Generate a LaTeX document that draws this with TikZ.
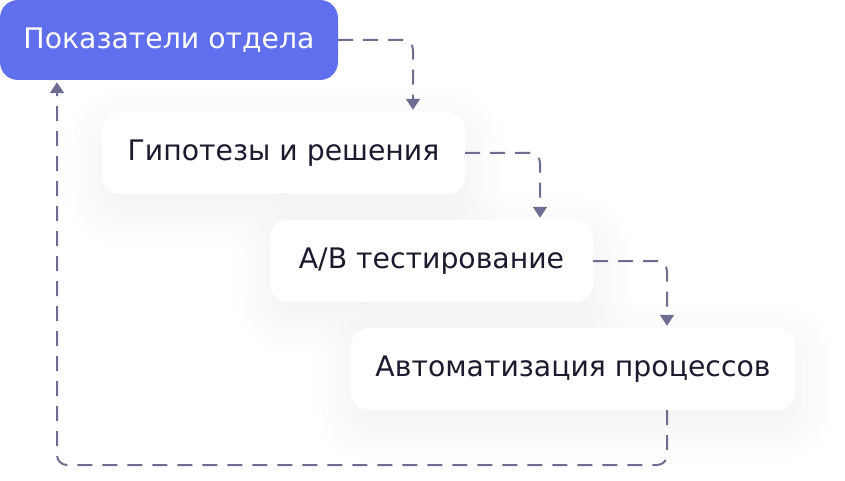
\documentclass[tikz,border=0pt]{standalone}
\usepackage{fontspec}
\setmainfont{DejaVu Sans}
\usetikzlibrary{arrows.meta,shadows.blur}
\definecolor{metricblue}{HTML}{5F6FEE}
\definecolor{flowgray}{HTML}{6E6C90}
\definecolor{inkdark}{HTML}{1B1A2E}
\begin{document}
\begin{tikzpicture}[x=1pt,y=-1pt,
  stage/.style={rounded corners=18pt,minimum height=82pt,inner sep=0pt,
    font=\fontsize{28.3}{32}\selectfont,text=inkdark,fill=white,
    blur shadow={shadow xshift=2pt,shadow yshift=-14pt,shadow blur radius=40pt,
      shadow opacity=6,shadow blur steps=20}},
  flow/.style={draw=flowgray,line width=2pt,dash pattern=on 15pt off 10pt,
    rounded corners=10pt,-{Triangle[width=14pt,length=11pt]},shorten >=2pt}]
\useasboundingbox (0,0) rectangle (845,481);
\node[stage,fill=metricblue,text=white,blur shadow={shadow opacity=0},minimum width=338pt,minimum height=80pt] (metrics) at (169,40) {Показатели отдела};
\node[stage,minimum width=363pt] (ideas) at (283.5,153) {Гипотезы и решения};
\node[stage,minimum width=323pt] (abtest) at (431.5,261) {A/B тестирование};
\node[stage,minimum width=444pt] (auto) at (573,369) {Автоматизация процессов};
\coordinate (turn1) at (413,42);
\coordinate (turn2) at (540,155);
\coordinate (turn3) at (667,262);
\coordinate (back) at (57,465);
\draw[flow] (metrics.east) -| (turn1 |- ideas.north);
\draw[flow] (ideas.east) -| (turn2 |- abtest.north);
\draw[flow] (abtest.east) -| (turn3 |- auto.north);
\draw[flow] (turn3 |- auto.south) |- (back) -- (back |- metrics.south);
\end{tikzpicture}
\end{document}
